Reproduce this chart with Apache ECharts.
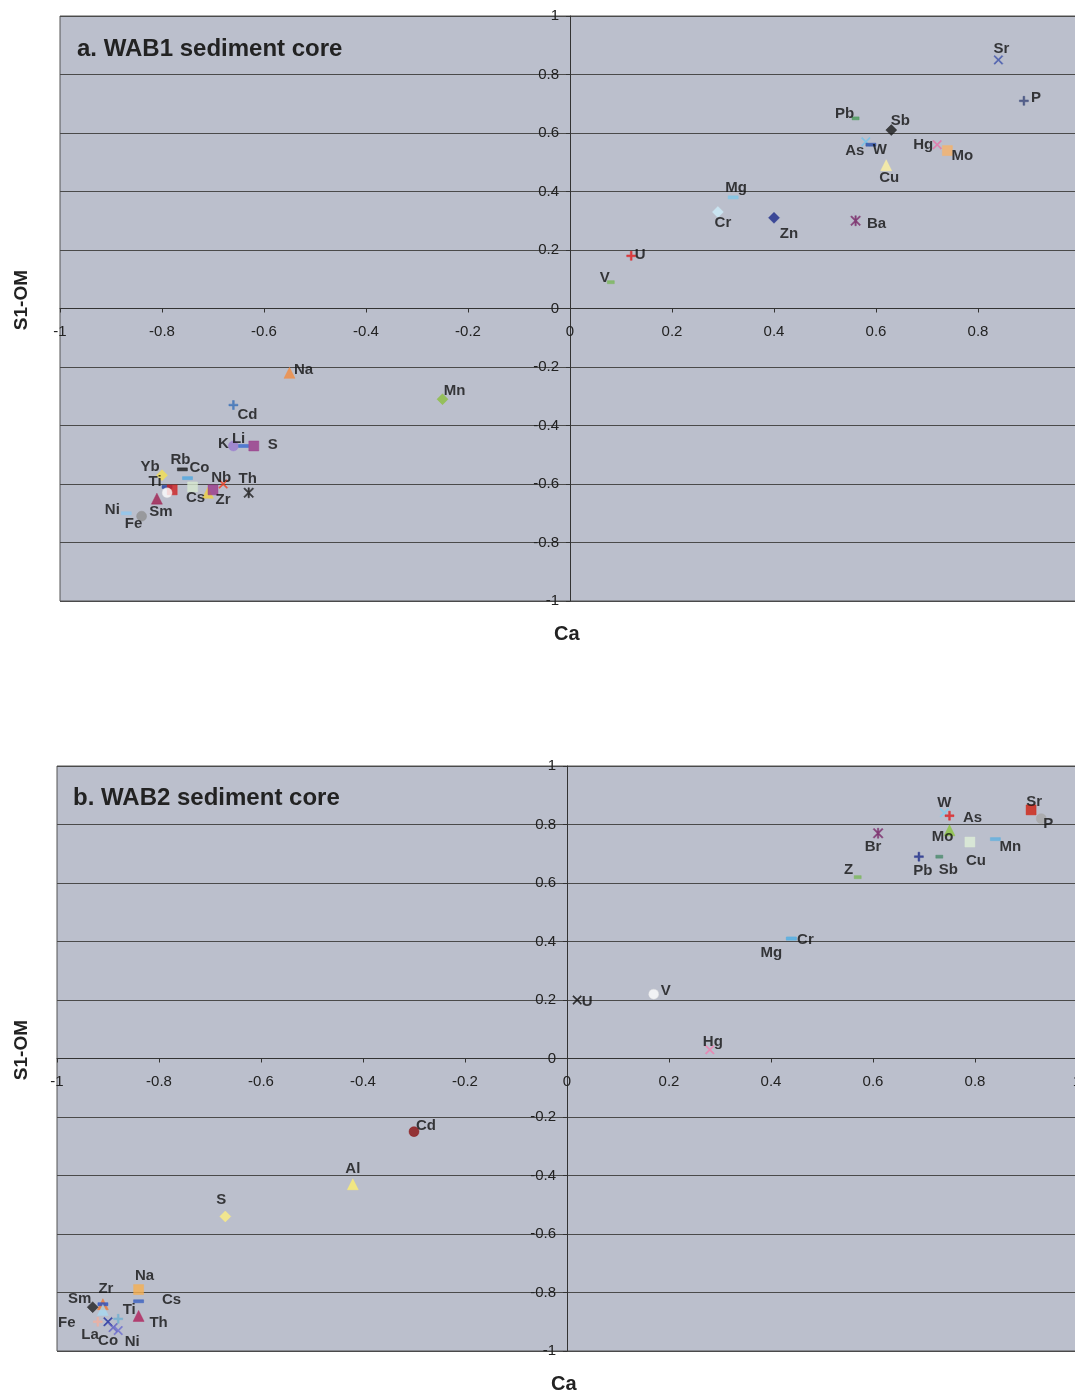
<!DOCTYPE html>
<html>
<head>
<meta charset="utf-8">
<script src="https://cdn.jsdelivr.net/npm/echarts@6/dist/echarts.min.js"></script>
<style>
  html, body { margin: 0; padding: 0; background: #fff; }
  #chart { width: 1075px; height: 1397px; }
</style>
</head>
<body>
<div id="chart"></div>
<script>
// tick labels (both axes, both panels)
var ticks = [-1, -0.8, -0.6, -0.4, -0.2, 0, 0.2, 0.4, 0.6, 0.8, 1];

// a. WAB1 sediment core  ('' = point without label)
var elemA = ['Sr', 'P', 'Pb', 'Sb', 'As', 'W', 'Hg', 'Mo', 'Cu', 'Mg', 'Cr', 'Zn', 'Ba', 'U', 'V',
  'Na', 'Mn', 'Cd', 'K', 'Li', 'S', 'Yb', 'Rb', 'Co', 'Ti', '', '', 'Cs', '', 'Zr', 'Nb', 'Th', 'Sm', 'Ni', 'Fe'];
var caA = [0.84, 0.89, 0.56, 0.63, 0.58, 0.59, 0.72, 0.74, 0.62, 0.32, 0.29, 0.40, 0.56, 0.12, 0.08,
  -0.55, -0.25, -0.66, -0.66, -0.64, -0.62, -0.80, -0.76, -0.75, -0.79, -0.78, -0.79, -0.74, -0.71, -0.70, -0.68, -0.63, -0.81, -0.87, -0.84];
var omA = [0.85, 0.71, 0.65, 0.61, 0.57, 0.56, 0.56, 0.54, 0.49, 0.38, 0.33, 0.31, 0.30, 0.18, 0.09,
  -0.22, -0.31, -0.33, -0.47, -0.47, -0.47, -0.57, -0.55, -0.58, -0.61, -0.62, -0.63, -0.61, -0.63, -0.62, -0.60, -0.63, -0.65, -0.70, -0.71];

// b. WAB2 sediment core
var elemB = ['W', 'As', 'Sr', 'P', 'Br', 'Mo', 'Cu', 'Mn', 'Pb', 'Sb', 'Z', 'Cr', 'Mg', 'U', 'V', 'Hg',
  'Cd', 'Al', 'S', 'Na', 'Cs', 'Zr', 'Sm', '', '', 'Ti', 'Th', 'La', 'Fe', 'Co', 'Ni'];
var caB = [0.74, 0.75, 0.91, 0.93, 0.61, 0.75, 0.79, 0.84, 0.69, 0.73, 0.57, 0.44, 0.44, 0.02, 0.17, 0.28,
  -0.30, -0.42, -0.67, -0.84, -0.84, -0.91, -0.93, -0.91, -0.91, -0.88, -0.84, -0.90, -0.92, -0.89, -0.88];
var omB = [0.84, 0.83, 0.85, 0.82, 0.77, 0.78, 0.74, 0.75, 0.69, 0.69, 0.62, 0.41, 0.41, 0.20, 0.22, 0.03,
  -0.25, -0.43, -0.54, -0.79, -0.83, -0.84, -0.85, -0.84, -0.86, -0.89, -0.88, -0.90, -0.90, -0.92, -0.93];

// marker shapes
var PLUS = 'path://M4,0H6V4H10V6H6V10H4V6H0V4H4Z';
var CROSS = 'path://M1,0L5,4L9,0L10,1L6,5L10,9L9,10L5,6L1,10L0,9L4,5L0,1Z';
var STAR = 'path://M1,0L5,4L9,0L10,1L6,5L10,9L9,10L5,6L1,10L0,9L4,5L0,1ZM4.3,0H5.7V10H4.3Z';
var SYM = {
  x: [CROSS, 9], p: [PLUS, 9], d: ['rect', [10, 3]], dm: ['diamond', 11], sq: ['rect', 10],
  tr: ['triangle', 11], c: ['circle', 10], st: [STAR, 10], s: ['rect', [7, 3]]
};

// marker style + label offset for each point, same order as the data above
var markA = [
  ['x', '#3b50aa', 3, -11], ['p', '#3d4a7a', 12, -3], ['s', '#4a9a5a', -11, -5], ['dm', '#1a1a1a', 9, -9],
  ['x', '#70c4ea', -11, 9], ['d', '#2c4fa8', 9, 5], ['x', '#e870a8', -14, 0], ['sq', '#f7b36a', 15, 5],
  ['tr', '#fff2a0', 3, 13], ['d', '#7fc8e8', 3, -9], ['dm', '#cdeefa', 5, 11], ['dm', '#1c2a8a', 15, 16],
  ['st', '#7a2a6a', 21, 3], ['p', '#e02020', 9, -1], ['s', '#7ab85a', -6, -4],
  ['tr', '#f28c40', 14, -3], ['dm', '#8cbf3f', 12, -8], ['p', '#3a70b8', 14, 10], ['c', '#9a7ad0', -10, -2],
  ['d', '#3a6ad0', -5, -7], ['sq', '#9a3a8a', 19, -1], ['dm', '#f5e050', -12, -8], ['d', '#1a1a1a', -2, -10],
  ['d', '#50a8e0', 12, -10], ['d', '#2040a0', -12, -5], ['sq', '#d02020', 0, 0], ['c', '#ffffff', 0, 0],
  ['sq', '#d8e8d0', 3, 11], ['tr', '#f0d040', 0, 0], ['sq', '#9a3a8a', 10, 10], ['x', '#f04020', -2, -6],
  ['st', '#222222', -1, -14], ['tr', '#a02050', 4, 13], ['d', '#90c8f0', -14, -3], ['c', '#909090', -8, 8]
];
var markB = [
  ['x', '#80d0f0', 0, -10], ['p', '#e02020', 23, 2], ['sq', '#d02010', 3, -8], ['c', '#a8a8a8', 7, 5],
  ['st', '#7a2a6a', -5, 14], ['tr', '#8cc63f', -7, 7], ['sq', '#e0f0d8', 6, 19], ['d', '#60b0e0', 15, 8],
  ['p', '#20308a', 4, 14], ['s', '#4a8a6a', 9, 13], ['s', '#7ab85a', -9, -7], ['d', '#60b0e0', 14, 1],
  ['d', '#60b0e0', -20, 14], ['x', '#111111', 10, 2], ['c', '#ffffff', 12, -3], ['x', '#f080b0', 3, -8],
  ['c', '#8a1010', 12, -6], ['tr', '#fff070', 0, -15], ['dm', '#fff080', -4, -17], ['sq', '#f8b050', 6, -14],
  ['d', '#3a60c0', 33, -1], ['tr', '#f07830', 3, -15], ['dm', '#222222', -13, -8], ['d', '#2a50c0', 0, 0],
  ['tr', '#a8d8f0', 0, 0], ['p', '#70b0d0', 11, -9], ['tr', '#b0205a', 20, 7], ['x', '#2030a0', -18, 13],
  ['p', '#f0b0a0', -31, 1], ['x', '#6060c0', -5, 13], ['x', '#6a6ad0', 14, 11]
];

function buildData(names, xs, ys, marks) {
  return names.map(function (n, i) {
    var m = marks[i], s = SYM[m[0]];
    return {
      name: n,
      value: [xs[i], ys[i]],
      symbol: s[0],
      symbolSize: s[1],
      itemStyle: { color: m[1], borderColor: m[1] === '#ffffff' ? '#dddddd' : m[1], borderWidth: 0.5 },
      label: { show: n !== '', offset: [m[2], m[3]] }
    };
  });
}

var GW = 1020, GH = 585;   // plot size; 0 sits in the middle of both axes

function xAxisOf(gi) {
  return {
    gridIndex: gi, type: 'value', min: -1, max: 1, interval: 0.2,
    position: 'bottom', offset: -GH / 2,
    axisLine: { onZero: false, lineStyle: { color: '#333', width: 1 } },
    axisTick: { show: true, length: 4, lineStyle: { color: '#333' } },
    axisLabel: { color: '#222', fontSize: 15, margin: 16, fontFamily: 'Liberation Sans, Arial',
      formatter: function (v) { return String(+v.toFixed(1)); } },
    splitLine: { show: false }
  };
}
function yAxisOf(gi) {
  return {
    gridIndex: gi, type: 'value', min: -1, max: 1, interval: 0.2,
    position: 'left', offset: -GW / 2,
    axisLine: { onZero: false, lineStyle: { color: '#333', width: 1 } },
    axisTick: { show: true, length: 4, lineStyle: { color: '#333' } },
    axisLabel: { color: '#222', fontSize: 15, margin: 11, fontFamily: 'Liberation Sans, Arial',
      formatter: function (v) { return String(+v.toFixed(1)); } },
    splitLine: { show: true, lineStyle: { color: '#4a4a4a', width: 1.2 } }
  };
}

var labelStyle = {
  position: 'inside', formatter: '{b}', color: '#111',
  fontSize: 15, fontWeight: 'bold', fontFamily: 'Liberation Sans, Arial'
};

var myChart = echarts.init(document.getElementById('chart'));
var option = {
  backgroundColor: '#ffffff',
  animation: false,
  title: [
    { text: 'a. WAB1 sediment core', left: 72, top: 32,
      textStyle: { fontSize: 24, fontWeight: 'bold', color: '#222', fontFamily: 'Liberation Sans, Arial' } },
    { text: 'b. WAB2 sediment core', left: 68, top: 781,
      textStyle: { fontSize: 24, fontWeight: 'bold', color: '#222', fontFamily: 'Liberation Sans, Arial' } }
  ],
  grid: [
    { left: 60, top: 16, width: GW, height: GH, show: true, backgroundColor: '#bbbfcc', borderColor: '#555', borderWidth: 1,
      containLabel: false, outerBoundsMode: 'none' },
    { left: 57, top: 766, width: GW, height: GH, show: true, backgroundColor: '#bbbfcc', borderColor: '#555', borderWidth: 1,
      containLabel: false, outerBoundsMode: 'none' }
  ],
  xAxis: [xAxisOf(0), xAxisOf(1)],
  yAxis: [yAxisOf(0), yAxisOf(1)],
  graphic: [
    { type: 'text', left: 12, top: 270, rotation: Math.PI / 2,
      style: { text: 'S1-OM', font: 'bold 19px Liberation Sans, Arial', fill: '#222' } },
    { type: 'text', left: 12, top: 1020, rotation: Math.PI / 2,
      style: { text: 'S1-OM', font: 'bold 19px Liberation Sans, Arial', fill: '#222' } },
    { type: 'text', left: 554, top: 624,
      style: { text: 'Ca', font: 'bold 20px Liberation Sans, Arial', fill: '#222' } },
    { type: 'text', left: 551, top: 1374,
      style: { text: 'Ca', font: 'bold 20px Liberation Sans, Arial', fill: '#222' } }
  ],
  series: [
    { type: 'scatter', xAxisIndex: 0, yAxisIndex: 0, label: labelStyle,
      data: buildData(elemA, caA, omA, markA) },
    { type: 'scatter', xAxisIndex: 1, yAxisIndex: 1, label: labelStyle,
      data: buildData(elemB, caB, omB, markB) }
  ]
};
myChart.setOption(option);
</script>
</body>
</html>
